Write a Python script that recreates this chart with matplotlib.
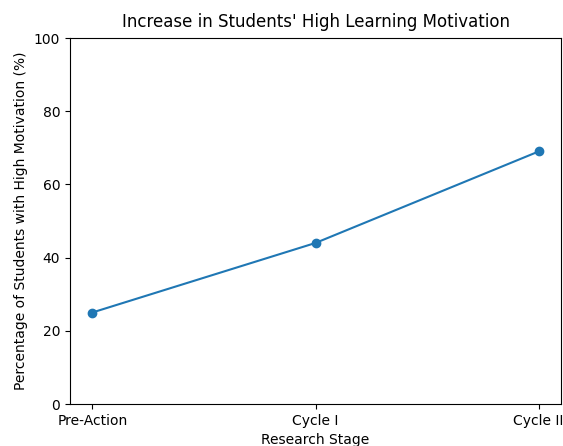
import matplotlib
matplotlib.use("Agg")
import matplotlib.pyplot as plt

# research stages and share of highly motivated students
stages = ["Pre-Action", "Cycle I", "Cycle II"]
high_motivation = [25, 44, 69]

fig = plt.figure(figsize=(5.63, 4.46), dpi=100)
ax = fig.add_axes([70 / 563, 42 / 446, 491 / 563, 366 / 446])

ax.plot(stages, high_motivation, marker="o", color="#1f77b4")
ax.set_ylim(0, 100)
ax.set_title("Increase in Students' High Learning Motivation", pad=8)
ax.set_xlabel("Research Stage", labelpad=4)
ax.set_ylabel("Percentage of Students with High Motivation (%)")

fig.savefig("out.png", dpi=100)
